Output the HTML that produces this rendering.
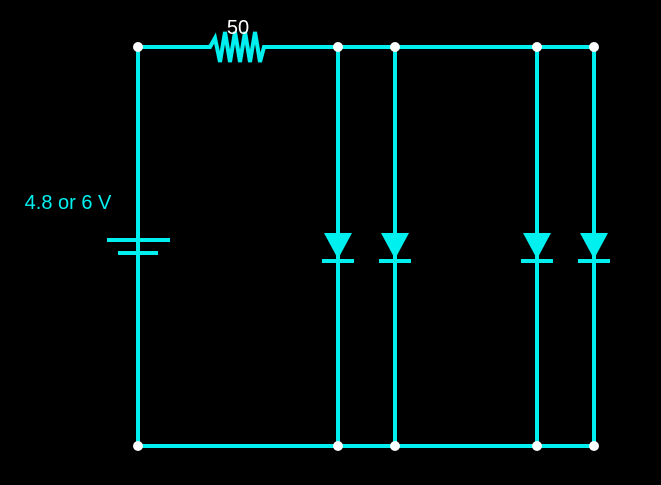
<!DOCTYPE html>
<html><head><style>html,body{margin:0;background:#000;width:661px;height:485px;overflow:hidden}</style></head>
<body>
<svg width="661" height="485" xmlns="http://www.w3.org/2000/svg" style="display:block">
<rect width="661" height="485" fill="#000"/>
<g stroke="#00f0f0" stroke-width="4" fill="none" stroke-linecap="butt">
<polyline points="138,446 138,47 210,47 215,38 220,62 225,32 230,62 235,32 240,62 245,32 250,62 255,32 260,62 264,47 594,47 594,446 138,446"/>
<line x1="338" y1="47" x2="338" y2="446"/>
<line x1="395" y1="47" x2="395" y2="446"/>
<line x1="537" y1="47" x2="537" y2="446"/>
<line x1="107" y1="240" x2="170" y2="240"/>
<line x1="118" y1="253" x2="158" y2="253"/>
<line x1="322" y1="261" x2="354" y2="261"/>
<line x1="379" y1="261" x2="411" y2="261"/>
<line x1="521" y1="261" x2="553" y2="261"/>
<line x1="578" y1="261" x2="610" y2="261"/>
</g>
<g fill="#00f0f0">
<polygon points="324,233 352,233 338,259"/>
<polygon points="381,233 409,233 395,259"/>
<polygon points="523,233 551,233 537,259"/>
<polygon points="580,233 608,233 594,259"/>
</g>
<g fill="#fff">
<circle cx="138" cy="47" r="5"/><circle cx="338" cy="47" r="5"/><circle cx="395" cy="47" r="5"/><circle cx="537" cy="47" r="5"/><circle cx="594" cy="47" r="5"/>
<circle cx="138" cy="446" r="5"/><circle cx="338" cy="446" r="5"/><circle cx="395" cy="446" r="5"/><circle cx="537" cy="446" r="5"/><circle cx="594" cy="446" r="5"/>
</g>
<text x="238" y="34" fill="#fff" font-family="Liberation Sans, sans-serif" font-size="20" text-anchor="middle">50</text>
<text x="68" y="209" fill="#00f0f0" font-family="Liberation Sans, sans-serif" font-size="20" text-anchor="middle">4.8 or 6 V</text>
</svg>
</body></html>
